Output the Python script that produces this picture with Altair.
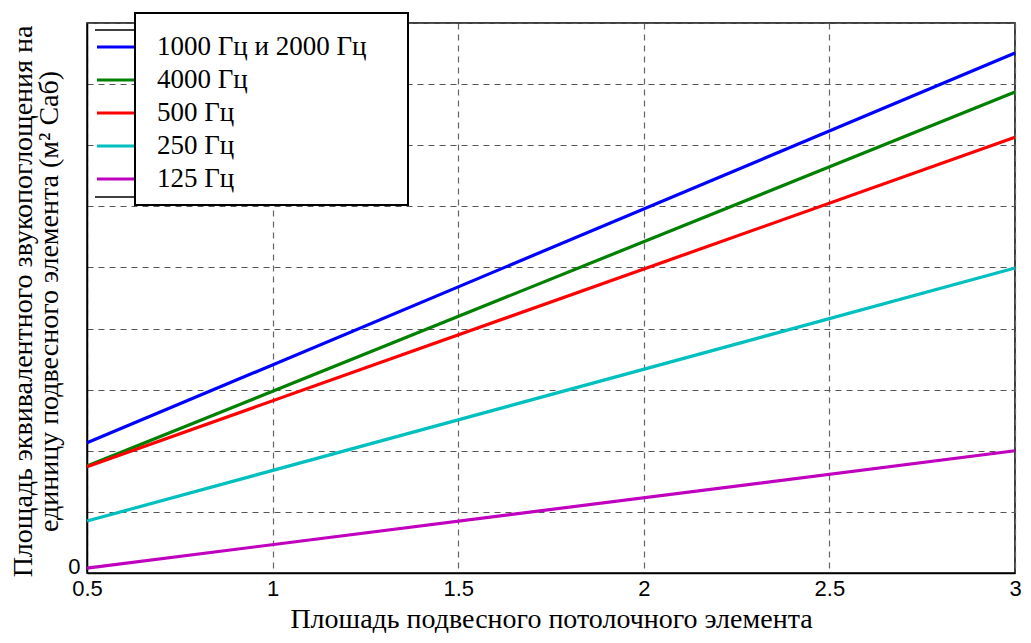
import altair as alt
import pandas as pd

names = ["1000 Гц и 2000 Гц", "4000 Гц", "500 Гц", "250 Гц", "125 Гц"]
colors = ["#0000ff", "#008000", "#ff0000", "#00bfbf", "#bf00bf"]
x_vals = [0.5, 3.0]
y_1000_2000 = [2.13, 8.51]
y_4000 = [1.75, 7.87]
y_500 = [1.74, 7.13]
y_250 = [0.85, 4.99]
y_125 = [0.08, 2.0]
x_ticks = [0.5, 1, 1.5, 2, 2.5, 3]
y_ticks = list(range(0, 10))

x_title = "Плошадь подвесного потолочного элемента"
y_title = ["Площадь эквивалентного звукопоглощения на", "единицу подвесного элемента (м² Саб)"]

rows = []
for n, ys in zip(names, [y_1000_2000, y_4000, y_500, y_250, y_125]):
    for xv, yv in zip(x_vals, ys):
        rows.append({"series": n, "x": xv, "y": yv})
df = pd.DataFrame(rows)
leg_df = pd.DataFrame({"series": names})
one = pd.DataFrame({"a": [0]})

W, H = 928, 550
serif = "Liberation Serif"
sans = "Liberation Sans"

color = alt.Color("series:N", scale=alt.Scale(domain=names, range=colors), legend=None)

lines = alt.Chart(df).mark_line(strokeWidth=3.2).encode(
    x=alt.X("x:Q", scale=alt.Scale(domain=[0.5, 3], nice=False, zero=False),
            axis=alt.Axis(values=x_ticks, labelExpr="'' + datum.value", title=x_title,
                          titleFont=serif, titleFontSize=28, titleFontWeight="normal",
                          titleColor="black", titleY=54, titleBaseline="alphabetic",
                          labelFont=sans, labelFontSize=22, labelColor="black", labelPadding=5,
                          labelFlush=False,
                          ticks=False, domainColor="black", domainWidth=1.5,
                          grid=True, gridDash=[6, 5], gridColor="#666", gridWidth=1.2)),
    y=alt.Y("y:Q", scale=alt.Scale(domain=[0, 9], nice=False),
            axis=alt.Axis(values=y_ticks, labelExpr="datum.value == 0 ? '0' : ''", title=y_title,
                          titleFont=serif, titleFontSize=28, titleFontWeight="normal",
                          titleColor="black", titleAngle=-90, titleX=-64, titleY=H / 2 + 3,
                          titleAlign="center", titleBaseline="middle", titleLineHeight=26,
                          labelFont=sans, labelFontSize=22, labelColor="black", labelPadding=7,
                          labelBaseline="middle", labelOffset=-7, labelFlush=False,
                          ticks=False, domainColor="black", domainWidth=1.5,
                          grid=True, gridDash=[6, 5], gridColor="#555", gridWidth=1.2)),
    color=color,
)

leg_y = alt.Y("series:N", scale=alt.Scale(type="point", domain=names, range=[24, 156], padding=0),
              axis=None)

samples = alt.Chart(leg_df).mark_rule(strokeWidth=3.2).encode(
    x=alt.value(10), x2=alt.value(48), y=leg_y, color=color)

artifacts = alt.Chart(pd.DataFrame({"k": ["a", "b"]})).mark_rule(strokeWidth=1.5, color="black").encode(
    x=alt.value(8), x2=alt.value(48),
    y=alt.Y("k:N", scale=alt.Scale(type="point", domain=["a", "b"], range=[7, 174], padding=0),
            axis=None))

box = alt.Chart(one).mark_rect(fill="white", stroke="black", strokeWidth=2).encode(
    x=alt.value(48), x2=alt.value(321), y=alt.value(-10), y2=alt.value(182))

labels = alt.Chart(leg_df).mark_text(align="left", baseline="middle", font=serif, fontSize=27,
                                     color="black").encode(
    x=alt.value(70), y=leg_y, text="series:N")

chart = alt.layer(lines, samples, artifacts, box, labels).resolve_scale(y="independent").properties(
    width=W, height=H,
    autosize=alt.AutoSizeParams(type="none"),
    padding={"left": 79, "top": 15, "right": 8, "bottom": 60},
    background="white",
).configure_view(stroke="black", strokeWidth=1.5)

chart.save("out.html", embed_options={"renderer": "svg", "actions": False})
